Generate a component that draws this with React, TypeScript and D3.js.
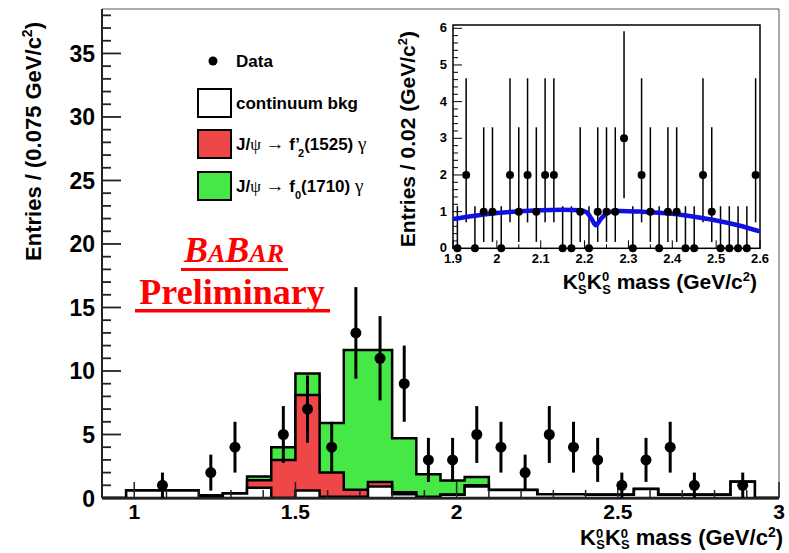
import React from "react";
import * as d3 from "d3";

// ---------- main histogram data (bins of 0.075 GeV/c^2 from 0.9 to 3.0) ----------
const binLow = 0.9;
const binWidth = 0.075;
const dataCounts = [0, 0, 1, 0, 2, 4, 0, 5, 7, 4, 13, 11, 9, 3, 3, 5, 4, 2, 5, 4, 3, 1, 3, 4, 1, 0, 1, 0];
const bkgVals = [0, 0.6, 0.6, 0.6, 0.2, 0.35, 0.8, 0, 0.6, 0.1, 0.1, 0.9, 0.3, 0.05, 0.25, 0.9, 0.63, 0.63, 0.3, 0.3, 0.25, 0.25, 0.7, 0.25, 0.25, 0.25, 1.28, 0];
const f2Vals = [0, 0, 0, 0, 0, 0, 0.6, 3.0, 7.5, 1.9, 0.55, 0.35, 0.15, 0.05, 0.03, 0.1, 0, 0, 0, 0, 0, 0, 0, 0, 0, 0, 0, 0];
const f0Vals = [0, 0, 0, 0, 0, 0, 0.3, 1.0, 1.7, 3.9, 11.0, 10.4, 4.25, 1.77, 1.1, 0.65, 0, 0, 0, 0, 0, 0, 0, 0, 0, 0, 0, 0];

const mainXTicks = [1, 1.5, 2, 2.5, 3];
const mainXTickLabels = ["1", "1.5", "2", "2.5", "3"];
const mainYTicks = [0, 5, 10, 15, 20, 25, 30, 35];

// ---------- inset data (bins of 0.02 from 1.9 to 2.6) ----------
const insetLow = 1.9;
const insetWidth = 0.02;
const insetCounts = [0, 2, 0, 1, 1, 0, 2, 1, 2, 1, 2, 2, 0, 0, 1, 0, 1, 1, 1, 3, 0, 2, 1, 0, 1, 1, 0, 0, 2, 1, 0, 0, 0, 0, 2];
const fitX = [1.9, 1.95, 2.0, 2.05, 2.1, 2.15, 2.19, 2.205, 2.215, 2.226, 2.237, 2.25, 2.265, 2.28, 2.33, 2.4, 2.45, 2.5, 2.55, 2.6];
const fitY = [0.8, 0.89, 0.96, 1.01, 1.04, 1.05, 1.04, 0.98, 0.82, 0.63, 0.8, 0.95, 1.01, 1.02, 1.0, 0.94, 0.86, 0.76, 0.63, 0.46];
const insetXTicks = [1.9, 2.0, 2.1, 2.2, 2.3, 2.4, 2.5, 2.6];
const insetXTickLabels = ["1.9", "2", "2.1", "2.2", "2.3", "2.4", "2.5", "2.6"];
const insetYTicks = [0, 1, 2, 3, 4, 5, 6];
// Poisson (Garwood) intervals for small counts
const poissonLow = [0, 0.173, 0.708, 1.367];
const poissonHigh = [1.148, 3.3, 4.638, 5.918];

const SANS = "'Liberation Sans', Arial, Helvetica, sans-serif";
const SERIF = "'Liberation Serif', 'Times New Roman', serif";
const RED = "#ef4747";
const GREEN = "#45e845";

export default function App() {
  const x = d3.scaleLinear().domain([0.9, 3.0]).range([102, 779]);
  const y = d3.scaleLinear().domain([0, 38.5]).range([498, 9]);
  const xi = d3.scaleLinear().domain([1.9, 2.6]).range([453, 760]);
  const yi = d3.scaleLinear().domain([0, 6.09]).range([248.3, 25]);

  const cumBkg = bkgVals.slice();
  const cumRed = bkgVals.map((v, i) => v + f2Vals[i]);
  const cumAll = bkgVals.map((v, i) => v + f2Vals[i] + f0Vals[i]);

  const stepPath = (vals: number[]) => {
    let p = `M${x(binLow)},${y(0)}`;
    vals.forEach((v, i) => {
      const a = binLow + i * binWidth;
      const b = a + binWidth;
      p += `L${x(a)},${y(v)}L${x(b)},${y(v)}`;
    });
    p += `L${x(binLow + vals.length * binWidth)},${y(0)}Z`;
    return p;
  };

  const minorY = d3.range(0, 39, 1);
  const minorX = d3.range(0.9, 3.0001, 0.1).map((v) => Math.round(v * 10) / 10);
  const insetMinorY = d3.range(0, 6.01, 0.2).map((v) => Math.round(v * 10) / 10);
  const insetMinorX = d3.range(1.9, 2.6001, 0.05).map((v) => Math.round(v * 100) / 100);

  const fitLine = d3
    .line<number>()
    .x((_, i) => xi(fitX[i]))
    .y((d) => yi(d))
    .curve(d3.curveMonotoneX);

  return (
    <svg width={789} height={553} style={{ position: "absolute", left: 0, top: 0, background: "#fff" }}>
      <rect x={0} y={0} width={789} height={553} fill="#fff" />
      {/* stacked histograms */}
      <path d={stepPath(cumAll)} fill={GREEN} stroke="#000" strokeWidth={2.5} strokeLinejoin="miter" />
      <path d={stepPath(cumRed)} fill={RED} stroke="#000" strokeWidth={2.5} />
      <path d={stepPath(cumBkg)} fill="#fff" stroke="#000" strokeWidth={2.5} />

      {/* frame */}
      <line x1={102} x2={779} y1={9} y2={9} stroke="#555" strokeWidth={1} />
      <line x1={779} x2={779} y1={9} y2={498} stroke="#555" strokeWidth={1} />
      <line x1={102} x2={102} y1={9} y2={498} stroke="#222" strokeWidth={2} />
      <line x1={102} x2={779} y1={498} y2={498} stroke="#222" strokeWidth={2} />

      {/* y ticks */}
      {minorY.map((v) => (
        <line key={"my" + v} x1={102} x2={102 + (v % 5 === 0 ? 19 : 9)} y1={y(v)} y2={y(v)} stroke="#222" strokeWidth={1.8} />
      ))}
      {mainYTicks.map((v) => (
        <text key={"yl" + v} x={95} y={y(v) + 8.5} textAnchor="end" fontFamily={SANS} fontWeight="bold" fontSize={23}>
          {v}
        </text>
      ))}
      {/* x ticks */}
      {minorX.map((v) => (
        <line key={"mx" + v} x1={x(v)} x2={x(v)} y1={498} y2={498 - (mainXTicks.includes(v) ? 16 : 8)} stroke="#222" strokeWidth={1.5} />
      ))}
      {mainXTicks.map((v, i) => (
        <text key={"xl" + v} x={x(v)} y={519} textAnchor="middle" fontFamily={SANS} fontWeight="bold" fontSize={21}>
          {mainXTickLabels[i]}
        </text>
      ))}

      {/* data points main */}
      {dataCounts.map((n, i) => {
        if (n <= 0) return null;
        const cx = x(binLow + (i + 0.5) * binWidth);
        const e = Math.sqrt(n);
        return (
          <g key={"d" + i}>
            <line x1={cx} x2={cx} y1={y(n - e)} y2={y(n + e)} stroke="#000" strokeWidth={3} />
            <circle cx={cx} cy={y(n)} r={5.5} fill="#000" />
          </g>
        );
      })}

      {/* axis titles */}
      <text x={783} y={545} textAnchor="end" fontFamily={SANS} fontWeight="bold" fontSize={22}>
        K<tspan dy={-7} fontSize={13}>0</tspan><tspan dx={-7} dy={11} fontSize={13}>S</tspan>
        <tspan dy={-4}>K</tspan><tspan dy={-7} fontSize={13}>0</tspan><tspan dx={-7} dy={11} fontSize={13}>S</tspan>
        <tspan dy={-4}> mass (GeV/c</tspan><tspan dy={-8} fontSize={14}>2</tspan><tspan dy={8}>)</tspan>
      </text>
      <text transform="translate(41,22) rotate(-90)" textAnchor="end" fontFamily={SANS} fontWeight="bold" fontSize={22}>
        Entries / (0.075 GeV/c<tspan dy={-9} fontSize={14}>2</tspan><tspan dy={9}>)</tspan>
      </text>

      {/* legend */}
      <circle cx={213} cy={61} r={4.5} fill="#000" />
      <text x={236} y={67} fontFamily={SANS} fontWeight="bold" fontSize={17}>Data</text>
      <rect x={198} y={89} width={33} height={28} fill="#fff" stroke="#000" strokeWidth={2} />
      <text x={236} y={109} fontFamily={SANS} fontWeight="bold" fontSize={17}>continuum bkg</text>
      <rect x={198} y={130} width={33} height={28} fill={RED} stroke="#000" strokeWidth={2} />
      <text x={236} y={150} fontFamily={SANS} fontWeight="bold" fontSize={17}>
        J/<tspan fontFamily={SERIF} fontWeight="normal">ψ</tspan> <tspan fontFamily={SERIF} fontWeight="normal" fontSize={19}>→</tspan> f’<tspan dx={-2} dy={7} fontSize={11}>2</tspan><tspan dy={-7}>(1525)</tspan> <tspan fontFamily={SERIF} fontWeight="normal" fontSize={19}>γ</tspan>
      </text>
      <rect x={198} y={172} width={33} height={28} fill={GREEN} stroke="#000" strokeWidth={2} />
      <text x={236} y={192} fontFamily={SANS} fontWeight="bold" fontSize={17}>
        J/<tspan fontFamily={SERIF} fontWeight="normal">ψ</tspan> <tspan fontFamily={SERIF} fontWeight="normal" fontSize={19}>→</tspan> f<tspan dy={7} fontSize={11}>0</tspan><tspan dy={-7}>(1710)</tspan> <tspan fontFamily={SERIF} fontWeight="normal" fontSize={19}>γ</tspan>
      </text>

      {/* BaBar preliminary */}
      <text x={234} y={262} textAnchor="middle" fontFamily={SERIF} fontWeight="bold" fontStyle="italic" fontSize={36} fill="#f00">
        B<tspan fontSize={26}>A</tspan>B<tspan fontSize={26}>AR</tspan>
      </text>
      <rect x={181} y={268} width={107} height={3} fill="#f00" />
      <text x={232} y={304} textAnchor="middle" fontFamily={SERIF} fontWeight="bold" fontSize={36} fill="#f00">
        Preliminary
      </text>
      <rect x={135} y={309} width={195} height={3.5} fill="#f00" />

      {/* ---------- inset ---------- */}
      <rect x={453} y={25} width={307} height={223.3} fill="#fff" stroke="#000" strokeWidth={1.5} />
      {insetMinorY.map((v) => (
        <line key={"iy" + v} x1={453} x2={453 + (Number.isInteger(v) ? 9 : 5)} y1={yi(v)} y2={yi(v)} stroke="#000" strokeWidth={1} />
      ))}
      {insetMinorX.map((v) => (
        <line key={"ix" + v} x1={xi(v)} x2={xi(v)} y1={248.3} y2={248.3 - (Math.round(v * 100) % 10 === 0 ? 8 : 4)} stroke="#000" strokeWidth={1} />
      ))}
      {insetYTicks.map((v) => (
        <text key={"iyl" + v} x={447} y={yi(v) + 4} textAnchor="end" fontFamily={SANS} fontWeight="bold" fontSize={13}>
          {v}
        </text>
      ))}
      {insetXTicks.map((v, i) => (
        <text key={"ixl" + v} x={xi(v)} y={263} textAnchor="middle" fontFamily={SANS} fontWeight="bold" fontSize={13}>
          {insetXTickLabels[i]}
        </text>
      ))}
      {insetCounts.map((n, i) => {
        const cx = xi(insetLow + (i + 0.5) * insetWidth);
        return (
          <g key={"id" + i}>
            <line x1={cx} x2={cx} y1={yi(poissonLow[n])} y2={yi(poissonHigh[n])} stroke="#000" strokeWidth={1.5} />
          </g>
        );
      })}
      <path d={fitLine(fitY) || ""} fill="none" stroke="#1010e0" strokeWidth={4.5} />
      {insetCounts.map((n, i) => (
        <circle key={"ic" + i} cx={xi(insetLow + (i + 0.5) * insetWidth)} cy={yi(n)} r={4} fill="#000" />
      ))}
      <text x={757} y={289} textAnchor="end" fontFamily={SANS} fontWeight="bold" fontSize={21}>
        K<tspan dy={-8} fontSize={13}>0</tspan><tspan dx={-7} dy={13} fontSize={13}>S</tspan>
        <tspan dy={-5}>K</tspan><tspan dy={-8} fontSize={13}>0</tspan><tspan dx={-7} dy={13} fontSize={13}>S</tspan>
        <tspan dy={-5}> mass (GeV/c</tspan><tspan dy={-8} fontSize={13}>2</tspan><tspan dy={8}>)</tspan>
      </text>
      <text transform="translate(415,31) rotate(-90)" textAnchor="end" fontFamily={SANS} fontWeight="bold" fontSize={21}>
        Entries / 0.02 (GeV/c<tspan dy={-8} fontSize={13}>2</tspan><tspan dy={8}>)</tspan>
      </text>
    </svg>
  );
}
